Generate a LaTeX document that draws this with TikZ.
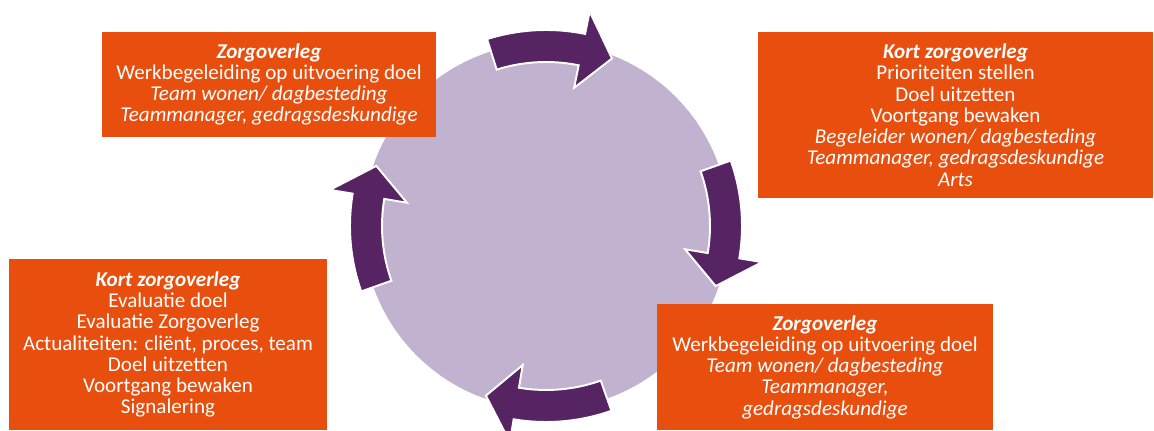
\documentclass[tikz,border=0pt]{standalone}
\usepackage{fontspec}
\setmainfont{Carlito}
\usetikzlibrary{calc}
\definecolor{zorgOrange}{RGB}{232,78,14}
\definecolor{cyclePurple}{RGB}{86,36,98}
\definecolor{cycleLilac}{RGB}{193,178,207}

\begin{document}
\begin{tikzpicture}[x=0.02cm, y=0.02cm,
    box/.style={fill=zorgOrange, text=white, align=center, inner sep=0pt,
      font=\fontsize{12}{12.1}\selectfont},
    cyc/.style={fill=cyclePurple, draw=white, line width=1.1pt, line join=miter}]
  \useasboundingbox (0,0) rectangle (1154,430);
  % Circle
  \coordinate (mid) at (546,204);
  \fill[cycleLilac] (mid) circle (183);
  % Curved arrows on the rim
  \foreach \a in {88,0,-90,180} {
    \draw[cyc] ($(mid)+(\a+19.5:196)$)
      arc[start angle=\a+19.5, end angle=\a-9.5, radius=196]
      -- ($(mid)+(\a-9.5:219)$) -- ($(mid)+(\a-19.5:180)$)
      -- ($(mid)+(\a-9.5:141)$) -- ($(mid)+(\a-9.5:164)$)
      arc[start angle=\a-9.5, end angle=\a+19.5, radius=164] -- cycle;
  }
  % Boxes
  \node[box, minimum width=6.68cm, minimum height=2.1cm] (zorgTop) at (269,345.5)
    {\textbf{\textit{Zorgoverleg}}\\
     Werkbegeleiding op uitvoering doel\\
     \textit{Team wonen/ dagbesteding}\\
     \textit{Teammanager, gedragsdeskundige}};
  \node[box, minimum width=7.9cm, minimum height=3.32cm] (kortTop) at (955.5,315)
    {\textbf{\textit{Kort zorgoverleg}}\\
     Prioriteiten stellen\\
     Doel uitzetten\\
     Voortgang bewaken\\
     \textit{Begeleider wonen/ dagbesteding}\\
     \textit{Teammanager, gedragsdeskundige}\\
     \textit{Arts}};
  \node[box, minimum width=6.72cm, minimum height=2.52cm] (zorgBot) at (825,63)
    {\textbf{\textit{Zorgoverleg}}\\
     Werkbegeleiding op uitvoering doel\\
     \textit{Team wonen/ dagbesteding}\\
     \textit{Teammanager,}\\
     \textit{gedragsdeskundige}};
  \node[box, minimum width=6.36cm, minimum height=3.42cm] (kortBot) at (168,85.5)
    {\textbf{\textit{Kort zorgoverleg}}\\
     Evaluatie doel\\
     Evaluatie Zorgoverleg\\
     Actualiteiten: cliënt, proces, team\\
     Doel uitzetten\\
     Voortgang bewaken\\
     Signalering};
\end{tikzpicture}
\end{document}
